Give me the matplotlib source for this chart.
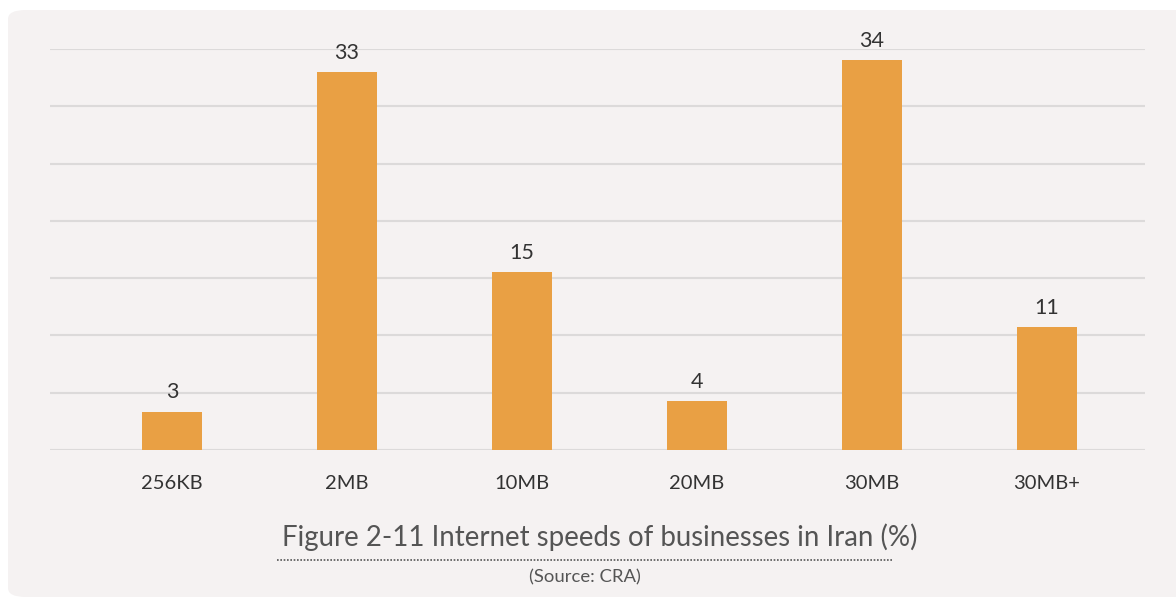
import numpy as np
import matplotlib.pyplot as plt
from matplotlib.patches import FancyBboxPatch
from matplotlib.lines import Line2D

categories = ['256KB', '2MB', '10MB', '20MB', '30MB', '30MB+']
# bar heights, labels as printed (rounded)
values = [3.35, 33.0, 15.5, 4.3, 34.0, 10.7]
labels = ['3', '33', '15', '4', '34', '11']

title = 'Figure 2-11 Internet speeds of businesses in Iran (%)'
source = '(Source: CRA)'

plt.rcParams['font.family'] = ['Lato', 'DejaVu Sans']

fig = plt.figure(figsize=(11.76, 6), dpi=100)
fig.patch.set_facecolor('white')

# light rounded panel behind everything
panel = FancyBboxPatch((8 / 1176, 3 / 600), 1.05, 587 / 600,
                       boxstyle='round,pad=0,rounding_size=0.015',
                       transform=fig.transFigure, facecolor='#f5f2f2',
                       edgecolor='none', zorder=-10)
fig.patches.append(panel)

ax = fig.add_axes([50 / 1176, 150 / 600, 1095 / 1176, 401 / 600])
ax.set_facecolor('none')
ax.set_zorder(1)

x = np.arange(len(categories))
bars = ax.bar(x, values, width=0.34, color='#e9a044', zorder=3)
for xi, v, lab in zip(x, values, labels):
    ax.text(xi, v + 0.8, lab, ha='center', va='bottom',
            fontsize=15.5, color='#333333')

ax.set_ylim(0, 35)
ax.set_xlim(-0.697, 5.56)
ax.set_yticks(np.arange(0, 36, 5))
ax.yaxis.grid(True, color='#dcdada', linewidth=1.5, zorder=0)
ax.tick_params(axis='y', left=False, labelleft=False)
ax.set_xticks(x)
ax.set_xticklabels(categories, fontsize=14.5, color='#333333')
ax.tick_params(axis='x', length=0, pad=18)
for s in ax.spines.values():
    s.set_visible(False)

fig.text(600 / 1176, 1 - 537 / 600, title, ha='center', va='center',
         fontsize=19.9, color='#555555')
fig.add_artist(Line2D([277 / 1176, 893 / 1176], [1 - 560 / 600, 1 - 560 / 600],
                      transform=fig.transFigure, color='#555555',
                      linestyle=(0, (1, 1)), linewidth=1.2))
fig.text(585 / 1176, 1 - 577 / 600, source, ha='center', va='center',
         fontsize=13.3, color='#555555')

fig.savefig('out.png', dpi=100)
